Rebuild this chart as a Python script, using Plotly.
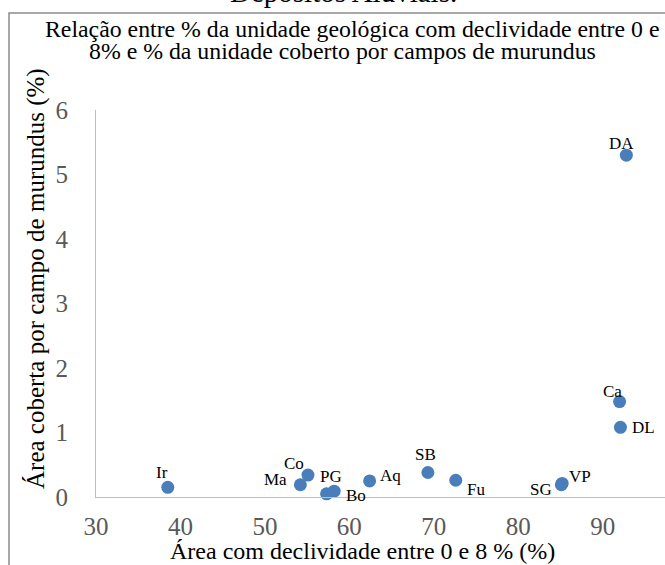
import plotly.graph_objects as go

labels = ["Ir", "Ma", "Co", "PG", "Bo", "Aq", "SB", "Fu", "SG", "VP", "DL", "Ca", "DA"]
x_vals = [38.5, 54.2, 55.1, 57.3, 58.2, 62.4, 69.3, 72.6, 85.1, 85.2, 92.1, 92.0, 92.8]
y_vals = [0.15, 0.19, 0.34, 0.05, 0.09, 0.25, 0.38, 0.26, 0.19, 0.21, 1.08, 1.48, 5.30]
x_ticks = [30, 40, 50, 60, 70, 80, 90]
y_ticks = [0, 1, 2, 3, 4, 5, 6]

# label offsets in pixels (dx right, dy down) relative to the marker
label_offsets = [(-6, -15), (-25, -5), (-14, -12), (4, -17), (22, 4), (21, -5), (-2, -18),
                 (20, 9), (-20, 5), (18, -7), (23, 0), (-7, -10), (-5, -12)]

W, H = 665, 565
L, R, T, B = 96, 0, 110, 565 - 497
pw = W - L - R
ph = H - T - B

def px_x(p):
    return (p - L) / pw

def px_y(p):
    return (H - B - p) / ph

serif = "Liberation Serif, Times New Roman, serif"

fig = go.Figure()
fig.add_trace(go.Scatter(
    x=x_vals, y=y_vals, mode="markers",
    marker=dict(size=13, color="#4A7EBB"),
    cliponaxis=False, showlegend=False,
))

annotations = []
for lab, xv, yv, (dx, dy) in zip(labels, x_vals, y_vals, label_offsets):
    annotations.append(dict(text=lab, x=xv, y=yv, xref="x", yref="y",
                            xshift=dx, yshift=-dy, showarrow=False,
                            xanchor="center", yanchor="middle",
                            font=dict(family=serif, size=17, color="#000000")))

annotations += [
    dict(text="Depósitos Aluviais.", xref="paper", yref="paper",
         x=px_x(343), y=px_y(-8), xanchor="center", yanchor="middle",
         showarrow=False, font=dict(family=serif, size=29, color="#000000")),
    dict(text="Relação entre % da unidade geológica com declividade entre 0 e",
         xref="paper", yref="paper", x=px_x(352), y=px_y(29),
         xanchor="center", yanchor="middle", showarrow=False,
         font=dict(family=serif, size=23.8, color="#000000")),
    dict(text="8% e % da unidade coberto por campos de murundus",
         xref="paper", yref="paper", x=px_x(342), y=px_y(51),
         xanchor="center", yanchor="middle", showarrow=False,
         font=dict(family=serif, size=23.8, color="#000000")),
    dict(text="Área coberta por campo de murundus (%)", xref="paper", yref="paper",
         x=px_x(36), y=px_y(279), xanchor="center", yanchor="middle",
         textangle=-90, showarrow=False,
         font=dict(family=serif, size=25, color="#000000")),
    dict(text="Área com declividade entre 0 e 8 % (%)", xref="paper", yref="paper",
         x=px_x(362), y=px_y(551), xanchor="center", yanchor="middle",
         showarrow=False, font=dict(family=serif, size=24, color="#000000")),
]

fig.update_layout(
    width=W, height=H,
    margin=dict(l=L, r=R, t=T, b=B),
    paper_bgcolor="white", plot_bgcolor="white",
    font=dict(family=serif),
    xaxis=dict(range=[30, 30 + pw / 8.445], tickvals=x_ticks, showgrid=False,
               zeroline=False, showline=True, linecolor="#BFBFBF", linewidth=1,
               ticks="", tickfont=dict(family=serif, size=25, color="#595959"),
               ticklabelstandoff=7, automargin=False),
    yaxis=dict(range=[0, 6], tickvals=y_ticks, showgrid=False, zeroline=False,
               showline=True, linecolor="#BFBFBF", linewidth=1, ticks="",
               tickfont=dict(family=serif, size=25, color="#595959"),
               ticklabelstandoff=22, automargin=False),
    shapes=[dict(type="rect", xref="paper", yref="paper",
                 x0=px_x(9), x1=px_x(700), y0=px_y(620), y1=px_y(13),
                 line=dict(color="#8C8C8C", width=1.5), layer="below")],
    annotations=annotations,
)

fig.write_html("out.html", config={"displayModeBar": False},
               post_script="document.body.style.margin='0px';")
